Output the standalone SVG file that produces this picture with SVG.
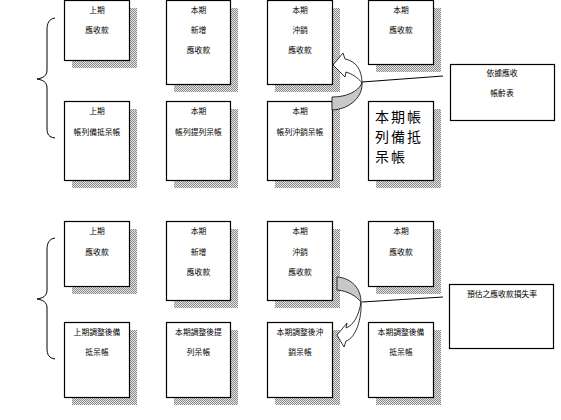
<svg xmlns="http://www.w3.org/2000/svg" width="561" height="420" viewBox="0 0 561 420">
<defs>
<pattern id="dots" width="2" height="2" patternUnits="userSpaceOnUse">
<rect width="2" height="2" fill="#e6e6e6"/>
<rect width="1" height="1" fill="#8a8a8a"/>
<rect x="1" y="1" width="1" height="1" fill="#8a8a8a"/>
</pattern>
<style>
.sh{fill:url(#dots);stroke:none}
.bx{fill:#fff;stroke:#000;stroke-width:1.2}
.t{font-family:"Noto Sans CJK TC","Noto Sans CJK SC",sans-serif;font-size:7.8px;text-anchor:middle;fill:#000}
.big{font-family:"Noto Sans CJK TC","Noto Sans CJK SC",sans-serif;font-size:14px;letter-spacing:2px;fill:#000}
.ln{fill:none;stroke:#000;stroke-width:1}
.ar{stroke:#000;stroke-width:0.8}
</style>
</defs>
<rect width="561" height="420" fill="#fff"/>

<!-- top section -->
<g id="n-prev-ar">
<rect class="sh" x="72" y="8" width="65" height="60"/>
<rect class="bx" x="64.5" y="0.5" width="65" height="60"/>
<text class="t" x="97" y="13">上期</text>
<text class="t" x="97" y="33">應收款</text>
</g>
<g id="n-new-ar">
<rect class="sh" x="174" y="8" width="64" height="84"/>
<rect class="bx" x="166.5" y="0.5" width="64" height="84"/>
<text class="t" x="198.5" y="13">本期</text>
<text class="t" x="198.5" y="33">新增</text>
<text class="t" x="198.5" y="53">應收款</text>
</g>
<g id="n-wo-ar">
<rect class="sh" x="275" y="8" width="65" height="84"/>
<rect class="bx" x="267.5" y="0.5" width="65" height="84"/>
<text class="t" x="300" y="13">本期</text>
<text class="t" x="300" y="33">沖銷</text>
<text class="t" x="300" y="53">應收款</text>
</g>
<g id="n-cur-ar">
<rect class="sh" x="376" y="8" width="65" height="64"/>
<rect class="bx" x="368.5" y="0.5" width="65" height="64"/>
<text class="t" x="401" y="13">本期</text>
<text class="t" x="401" y="33">應收款</text>
</g>
<g id="n-prev-allow">
<rect class="sh" x="72" y="109" width="65" height="79"/>
<rect class="bx" x="64.5" y="101.5" width="65" height="79"/>
<text class="t" x="97" y="114">上期</text>
<text class="t" x="97" y="135">帳列備抵呆帳</text>
</g>
<g id="n-prov">
<rect class="sh" x="174" y="109" width="64" height="79"/>
<rect class="bx" x="166.5" y="101.5" width="64" height="79"/>
<text class="t" x="198.5" y="114">本期</text>
<text class="t" x="198.5" y="135">帳列提列呆帳</text>
</g>
<g id="n-wo-allow">
<rect class="sh" x="275" y="109" width="65" height="79"/>
<rect class="bx" x="267.5" y="101.5" width="65" height="79"/>
<text class="t" x="300" y="114">本期</text>
<text class="t" x="300" y="135">帳列沖銷呆帳</text>
</g>
<g id="n-cur-allow">
<rect class="sh" x="376" y="109" width="65" height="79"/>
<rect class="bx" x="368.5" y="101.5" width="65" height="79"/>
<text class="big" x="375" y="122">本期帳</text>
<text class="big" x="375" y="142">列備抵</text>
<text class="big" x="375" y="162">呆帳</text>
</g>
<g id="n-aging">
<rect class="bx" x="450.5" y="64.5" width="104" height="56"/>
<text class="t" x="502" y="76">依據應收</text>
<text class="t" x="502" y="96">帳齡表</text>
</g>

<!-- bottom section -->
<g id="n2-prev-ar">
<rect class="sh" x="72" y="229" width="65" height="65"/>
<rect class="bx" x="64.5" y="221.5" width="65" height="65"/>
<text class="t" x="97" y="234">上期</text>
<text class="t" x="97" y="255">應收款</text>
</g>
<g id="n2-new-ar">
<rect class="sh" x="174" y="229" width="64" height="79"/>
<rect class="bx" x="166.5" y="221.5" width="64" height="79"/>
<text class="t" x="198.5" y="234">本期</text>
<text class="t" x="198.5" y="255">新增</text>
<text class="t" x="198.5" y="275">應收款</text>
</g>
<g id="n2-wo-ar">
<rect class="sh" x="275" y="229" width="65" height="79"/>
<rect class="bx" x="267.5" y="221.5" width="65" height="79"/>
<text class="t" x="300" y="234">本期</text>
<text class="t" x="300" y="255">沖銷</text>
<text class="t" x="300" y="275">應收款</text>
</g>
<g id="n2-cur-ar">
<rect class="sh" x="376" y="229" width="65" height="65"/>
<rect class="bx" x="368.5" y="221.5" width="65" height="65"/>
<text class="t" x="401" y="234">本期</text>
<text class="t" x="401" y="255">應收款</text>
</g>
<g id="n2-prev-allow">
<rect class="sh" x="72" y="330" width="65" height="75"/>
<rect class="bx" x="64.5" y="322.5" width="65" height="75"/>
<text class="t" x="97" y="335">上期調整後備</text>
<text class="t" x="97" y="355">抵呆帳</text>
</g>
<g id="n2-prov">
<rect class="sh" x="174" y="330" width="64" height="75"/>
<rect class="bx" x="166.5" y="322.5" width="64" height="75"/>
<text class="t" x="198.5" y="335">本期調整後提</text>
<text class="t" x="198.5" y="355">列呆帳</text>
</g>
<g id="n2-wo-allow">
<rect class="sh" x="275" y="330" width="65" height="75"/>
<rect class="bx" x="267.5" y="322.5" width="65" height="75"/>
<text class="t" x="300" y="335">本期調整後沖</text>
<text class="t" x="300" y="355">銷呆帳</text>
</g>
<g id="n2-cur-allow">
<rect class="sh" x="376" y="330" width="65" height="75"/>
<rect class="bx" x="368.5" y="322.5" width="65" height="75"/>
<text class="t" x="401" y="335">本期調整後備</text>
<text class="t" x="401" y="355">抵呆帳</text>
</g>
<g id="n2-rate">
<rect class="bx" x="449.5" y="284.5" width="104" height="64"/>
<text class="t" x="502" y="297">預估之應收款損失率</text>
</g>

<!-- connectors -->
<g id="connectors">
<path class="ln" d="M55,18 C49,19 47,23 47,30 L47,70 C47,76 43,78 37,79 C43,80 47,82 47,88 L47,128 C47,135 49,137 55,138"/>
<path class="ln" d="M55,238 C49,239 47,243 47,250 L47,290 C47,296 43,298 37,299 C43,300 47,302 47,308 L47,348 C47,355 49,358 55,359"/>
<path class="ln" d="M362,82 L443,76"/>
<path class="ln" d="M362,302 L443,297"/>
<!-- top curved arrow -->
<path class="ar" fill="#c8c8c8" d="M332,97 C346,97 358,92 362,83 C363,95 352,109 332,110 Z"/>
<path class="ar" fill="#fff" d="M333,65 L343,53 L345,59 C356,61 362,70 362,83 C360,80 355,75 346,72 L345,77 Z"/>
<!-- bottom curved arrow -->
<path class="ar" fill="#c8c8c8" d="M337,277 C352,278 361,289 361,302 C356,296 348,291 337,290 Z"/>
<path class="ar" fill="#fff" d="M337,335 L347,323 L346,328 C354,325 359,315 361,302 C362,318 356,338 346,341 L344,347 Z"/>
</g>
</svg>
